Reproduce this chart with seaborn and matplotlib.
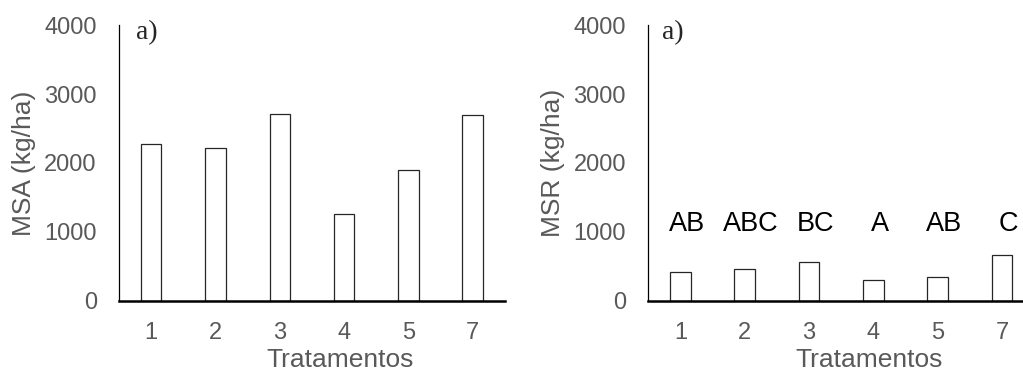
import matplotlib
matplotlib.use("Agg")
import pandas as pd
import matplotlib.pyplot as plt
import seaborn as sns

# ============================================
# DATA
# ============================================

tratamentos = ["1", "2", "3", "4", "5", "7"]
msa = [2270, 2215, 2710, 1256, 1897, 2698]
msr = [420, 464, 571, 300, 348, 662]
letras_msr = ["AB", "ABC", "BC", "A", "AB", "C"]

df_msa = pd.DataFrame({"Tratamentos": tratamentos, "MSA": msa})
df_msr = pd.DataFrame({"Tratamentos": tratamentos, "MSR": msr})

# ============================================
# STYLE
# ============================================

sns.set_style("white")
plt.rcParams["font.family"] = ["Liberation Sans", "DejaVu Sans"]

grey = "#595959"

fig = plt.figure(figsize=(10.23, 3.71), dpi=100)
ax1 = fig.add_axes([0.1163, 0.1887, 0.3773, 0.7439])
ax2 = fig.add_axes([0.6337, 0.1887, 0.3773, 0.7439])


def draw_panel(ax, data, col, ylabel):
    sns.barplot(data=data, x="Tratamentos", y=col, ax=ax, color="white",
                edgecolor="#262626", linewidth=0.9, width=0.32, saturation=1)
    ax.set_ylim(0, 4000)
    ax.set_xlim(-0.5, 5.5)
    ax.set_yticks([0, 1000, 2000, 3000, 4000])
    ax.tick_params(axis="y", length=0, pad=16, labelsize=17, labelcolor=grey)
    ax.tick_params(axis="x", length=0, pad=15, labelsize=17, labelcolor=grey)
    for s in ["top", "right"]:
        ax.spines[s].set_visible(False)
    ax.spines["left"].set_color("black")
    ax.spines["left"].set_linewidth(0.9)
    ax.spines["bottom"].set_color("black")
    ax.spines["bottom"].set_linewidth(1.8)
    ax.set_ylabel(ylabel, fontsize=19, color=grey)
    ax.yaxis.set_label_coords(-0.215, 0.5)
    ax.set_xlabel("Tratamentos", fontsize=19, color=grey)
    ax.xaxis.set_label_coords(0.572, -0.172)
    ax.set_facecolor("white")


draw_panel(ax1, df_msa, "MSA", "MSA (kg/ha)")
draw_panel(ax2, df_msr, "MSR", "MSR (kg/ha)")

ax1.text(0.045, 0.95, "a)", transform=ax1.transAxes, fontsize=20,
         family=["Liberation Serif", "DejaVu Serif"], va="baseline", ha="left")
ax2.text(0.035, 0.95, "a)", transform=ax2.transAxes, fontsize=20,
         family=["Liberation Serif", "DejaVu Serif"], va="baseline", ha="left")

# letras de significancia
for i, letra in enumerate(letras_msr):
    ax2.text(i + 0.1, 1010, letra, fontsize=19.5, color="black",
             ha="center", va="baseline")

fig.savefig("out.png", dpi=100, facecolor="white")
